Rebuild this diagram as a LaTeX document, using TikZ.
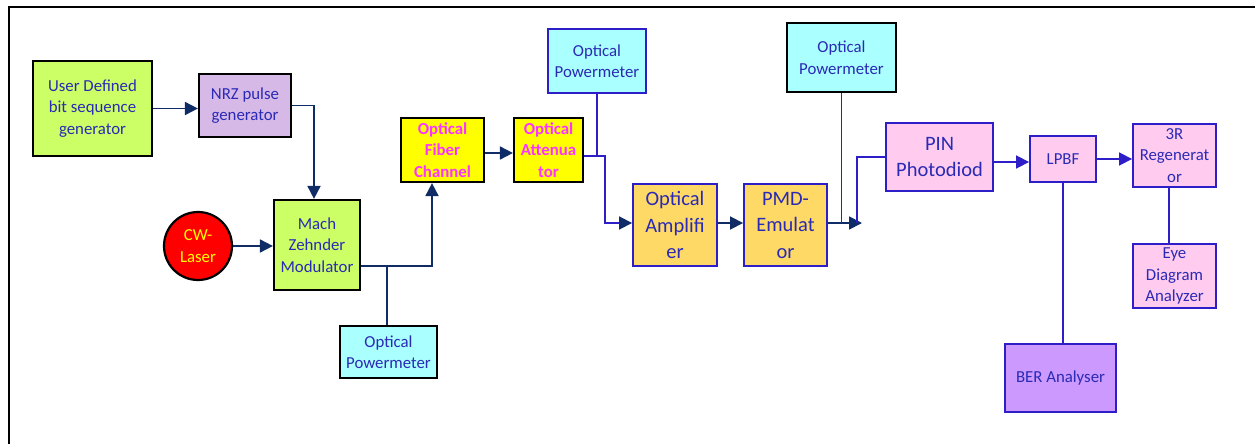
\documentclass[tikz,border=0pt]{standalone}
\usepackage{fontspec}
\setmainfont{Carlito}
\usetikzlibrary{arrows.meta}
\definecolor{cgreen}{HTML}{CCFF66}
\definecolor{clav}{HTML}{D7B9E8}
\definecolor{ccyan}{HTML}{AAFFFF}
\definecolor{cyel}{HTML}{FFFF00}
\definecolor{corange}{HTML}{FFD966}
\definecolor{cpink}{HTML}{FFCCF0}
\definecolor{cpurple}{HTML}{CC99FF}
\definecolor{ctext}{HTML}{2A2AB4}
\definecolor{cnavy}{HTML}{102C66}
\definecolor{cblue}{HTML}{2E1EC8}
\definecolor{cmag}{HTML}{FF33FF}
\tikzset{
  blk/.style={draw=black, line width=2.2pt, inner sep=0pt, align=center, text=ctext,
    font=\fontsize{16.8}{21.5}\selectfont},
  bblk/.style={blk, draw=cblue, line width=1.9pt},
  big/.style={font=\fontsize{20.5}{26.5}\selectfont},
  ylw/.style={blk, fill=cyel, text=cmag, font=\fontsize{16.8}{21.5}\selectfont\bfseries},
  nline/.style={draw=cnavy, line width=1.8pt},
  bline/.style={draw=cblue, line width=1.8pt},
  narr/.style={nline, -{Triangle[length=13pt,width=13pt]}},
  barr/.style={bline, -{Triangle[length=13pt,width=13pt]}},
  mixarr/.style={bline, -{Triangle[length=13pt,width=13pt,color=cnavy]}},
}
\begin{document}
\begin{tikzpicture}[x=1pt,y=-1pt]
\useasboundingbox (0,0) rectangle (1255,444);
\fill[white] (0,0) rectangle (1255,444);
\draw[black, line width=2.2pt] (9,446) -- (9,7) -- (1257,7);

% nodes
\node[blk, fill=cgreen, minimum width=119, minimum height=95] (ud) at (92.5,108.5) {User Defined\\bit sequence\\generator};
\node[blk, fill=clav, minimum width=92, minimum height=63] (nrz) at (245,105.5) {NRZ pulse\\generator};
\node[blk, fill=cgreen, minimum width=86, minimum height=90] (mzm) at (317,245) {Mach\\Zehnder\\Modulator};
\node[blk, circle, fill=red, text=cyel, minimum size=68] (cw) at (198,246) {CW-\\Laser};
\node[blk, fill=ccyan, minimum width=97, minimum height=52] (pm1) at (388.5,352) {Optical\\Powermeter};
\node[ylw, minimum width=83, minimum height=64] (ofc) at (442.5,150) {Optical\\Fiber\\Channel};
\node[ylw, minimum width=69, minimum height=64] (att) at (548.5,150) {Optical\\Attenua\\tor};
\node[bblk, fill=ccyan, minimum width=98, minimum height=64] (pm2) at (597,61) {Optical\\Powermeter};
\node[bblk, big, fill=corange, minimum width=84, minimum height=82] (amp) at (675,225) {Optical\\Amplifi\\er};
\node[bblk, big, fill=corange, minimum width=83, minimum height=82] (pmd) at (785.5,225) {PMD-\\Emulat\\or};
\node[blk, fill=ccyan, minimum width=109, minimum height=69] (pm3) at (841.5,57.5) {Optical\\Powermeter};
\node[bblk, big, fill=cpink, minimum width=107, minimum height=68] (pin) at (939.5,157) {PIN\\Photodiod};
\node[bblk, fill=cpink, minimum width=66, minimum height=46] (lpbf) at (1063,159) {LPBF};
\node[bblk, fill=cpink, minimum width=83, minimum height=63] (r3) at (1174.5,155.5) {3R\\Regenerat\\or};
\node[bblk, fill=cpink, minimum width=83, minimum height=64] (eye) at (1174.5,276) {Eye\\Diagram\\Analyzer};
\node[bblk, fill=cpurple, minimum width=111, minimum height=68] (ber) at (1060.5,378) {BER Analyser};

% junction coordinates
\coordinate (j1) at (387,266);
\coordinate (j2) at (597,156);
\coordinate (j3) at (862,223);
\coordinate (j4) at (857,223);

% connectors
\draw[narr] (ud.east) -- (ud.east -| nrz.west);
\draw[narr] (nrz.east) -| ([xshift=-3pt]mzm.north);
\draw[narr] (cw.east) -- (cw.east -| mzm.west);
\draw[narr] ([yshift=-21pt]mzm.east) -| ([xshift=-10.5pt]ofc.south);
\draw[nline] (j1) -- (j1 |- pm1.north);
\draw[narr] ([yshift=-3pt]ofc.east) -- ([yshift=-3pt]att.west);
\draw[mixarr] ([yshift=-6pt]att.east) -- ++(21,0) |- ([yshift=2pt]amp.west);
\draw[bline] (pm2.south) -- (j2);
\draw[narr] ([yshift=2pt]amp.east) -- ([yshift=2pt]pmd.west);
\draw[narr] ([yshift=2pt]pmd.east) -- (j3);
\draw[bline] (pm3.south) -- (pm3.south |- j3);
\draw[bline] (j4) |- (pin.west);
\draw[barr] ([yshift=-5pt]pin.east) -- ([yshift=-5pt]pin.east -| lpbf.west);
\draw[barr] (lpbf.east) -- (lpbf.east -| r3.west);
\draw[bline] (lpbf.south) -- (lpbf.south |- ber.north);
\draw[bline] ([xshift=-5.5pt]r3.south) -- ([xshift=-5.5pt]eye.north);
\end{tikzpicture}
\end{document}
